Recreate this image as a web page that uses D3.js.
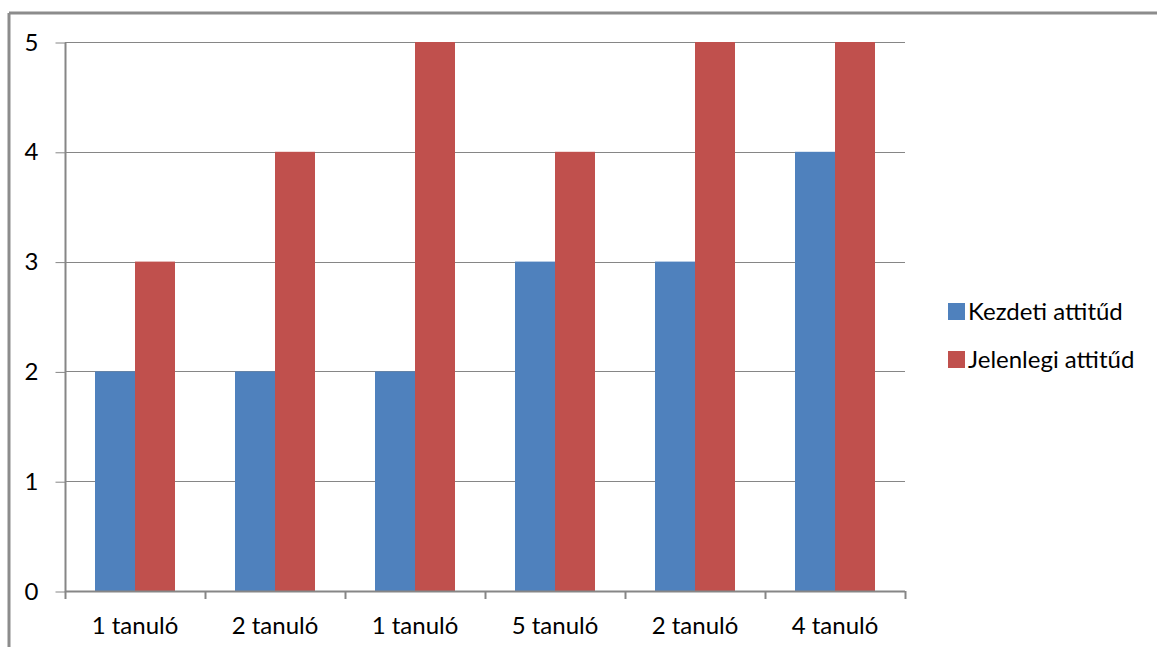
<!DOCTYPE html>
<html>
<head>
<meta charset="utf-8">
<script src="https://cdn.jsdelivr.net/npm/d3@7"></script>
<style>
  html, body { margin: 0; padding: 0; background: #fff; }
  svg { display: block; }
  text { font-family: Lato, "Open Sans", sans-serif; fill: #000; }
</style>
</head>
<body>
<svg id="chart" width="1157" height="647"></svg>
<script>
// Category labels and attitude scores per student group
const categories = ["1 tanuló", "2 tanuló", "1 tanuló", "5 tanuló", "2 tanuló", "4 tanuló"];
const seriesNames = ["Kezdeti attitűd", "Jelenlegi attitűd"];
const kezdeti = [2, 2, 2, 3, 3, 4];
const jelenlegi = [3, 4, 5, 4, 5, 5];
const yTicks = [0, 1, 2, 3, 4, 5];
const colors = ["#4F81BD", "#C0504D"];

const svg = d3.select("#chart");
const W = 1157, H = 647;
const plot = { left: 65, right: 905, top: 42, bottom: 591 };
const axisColor = "#868686";
const fontSize = 24;

// Outer frame (top and left edges)
svg.append("line").attr("x1", 9).attr("x2", W).attr("y1", 13).attr("y2", 13)
  .attr("stroke", "#8c8c8c").attr("stroke-width", 3);
svg.append("line").attr("x1", 9).attr("x2", 9).attr("y1", 13).attr("y2", H)
  .attr("stroke", "#8c8c8c").attr("stroke-width", 3);

const x0 = d3.scaleBand().domain(d3.range(categories.length))
  .range([plot.left, plot.right]).paddingInner(0).paddingOuter(0);
const x1 = d3.scaleBand().domain([0, 1]).range([0, x0.bandwidth()]).paddingOuter(0.75).paddingInner(0);
const y = d3.scaleLinear().domain([0, 5]).range([plot.bottom, plot.top]);

// Horizontal gridlines
svg.append("g").selectAll("line").data(yTicks.filter(d => d > 0)).join("line")
  .attr("x1", plot.left).attr("x2", plot.right)
  .attr("y1", d => Math.round(y(d)) + 0.5).attr("y2", d => Math.round(y(d)) + 0.5)
  .attr("stroke", axisColor).attr("stroke-width", 1);

// Bars
const data = categories.map((c, i) => [kezdeti[i], jelenlegi[i]]);
const groups = svg.append("g").selectAll("g").data(data).join("g")
  .attr("transform", (d, i) => `translate(${x0(i)},0)`);
groups.selectAll("rect").data(d => d.map((v, s) => ({ v, s }))).join("rect")
  .attr("x", d => x1(d.s)).attr("width", x1.bandwidth())
  .attr("y", d => y(d.v)).attr("height", d => y(0) - y(d.v))
  .attr("fill", d => colors[d.s]);

// Y axis
const yAxis = d3.axisLeft(y).tickValues(yTicks).tickSize(10).tickPadding(17).tickFormat(d3.format("d"));
const gy = svg.append("g").attr("transform", `translate(${plot.left + 0.5},0.5)`).call(yAxis);
gy.select(".domain").attr("stroke", axisColor).attr("stroke-width", 2).attr("d", `M0,${plot.top}V${plot.bottom}`);
gy.selectAll(".tick line").attr("stroke", axisColor);
gy.selectAll(".tick text").attr("font-size", fontSize).attr("font-family", "Lato, sans-serif").attr("fill", "#000");

// X axis (category boundaries ticks)
const gx = svg.append("g");
gx.append("line").attr("x1", plot.left).attr("x2", plot.right)
  .attr("y1", plot.bottom + 0.5).attr("y2", plot.bottom + 0.5)
  .attr("stroke", axisColor).attr("stroke-width", 2);
gx.selectAll("line.tk").data(d3.range(categories.length + 1)).join("line").attr("class", "tk")
  .attr("x1", i => (i < categories.length ? x0(i) : plot.right) + 0.5)
  .attr("x2", i => (i < categories.length ? x0(i) : plot.right) + 0.5)
  .attr("y1", plot.bottom).attr("y2", plot.bottom + 8)
  .attr("stroke", axisColor).attr("stroke-width", 2);
gx.selectAll("text").data(categories).join("text")
  .attr("x", (d, i) => x0(i) + x0.bandwidth() / 2).attr("y", 634)
  .attr("text-anchor", "middle").attr("font-size", fontSize).text(d => d);

// Legend
const legend = svg.append("g");
const ly = [303, 351];
seriesNames.forEach((name, i) => {
  legend.append("rect").attr("x", 948).attr("y", ly[i]).attr("width", 17).attr("height", 17).attr("fill", colors[i]);
  legend.append("text").attr("x", 968).attr("y", ly[i] + 17).attr("font-size", fontSize).text(name);
});
</script>
</body>
</html>
